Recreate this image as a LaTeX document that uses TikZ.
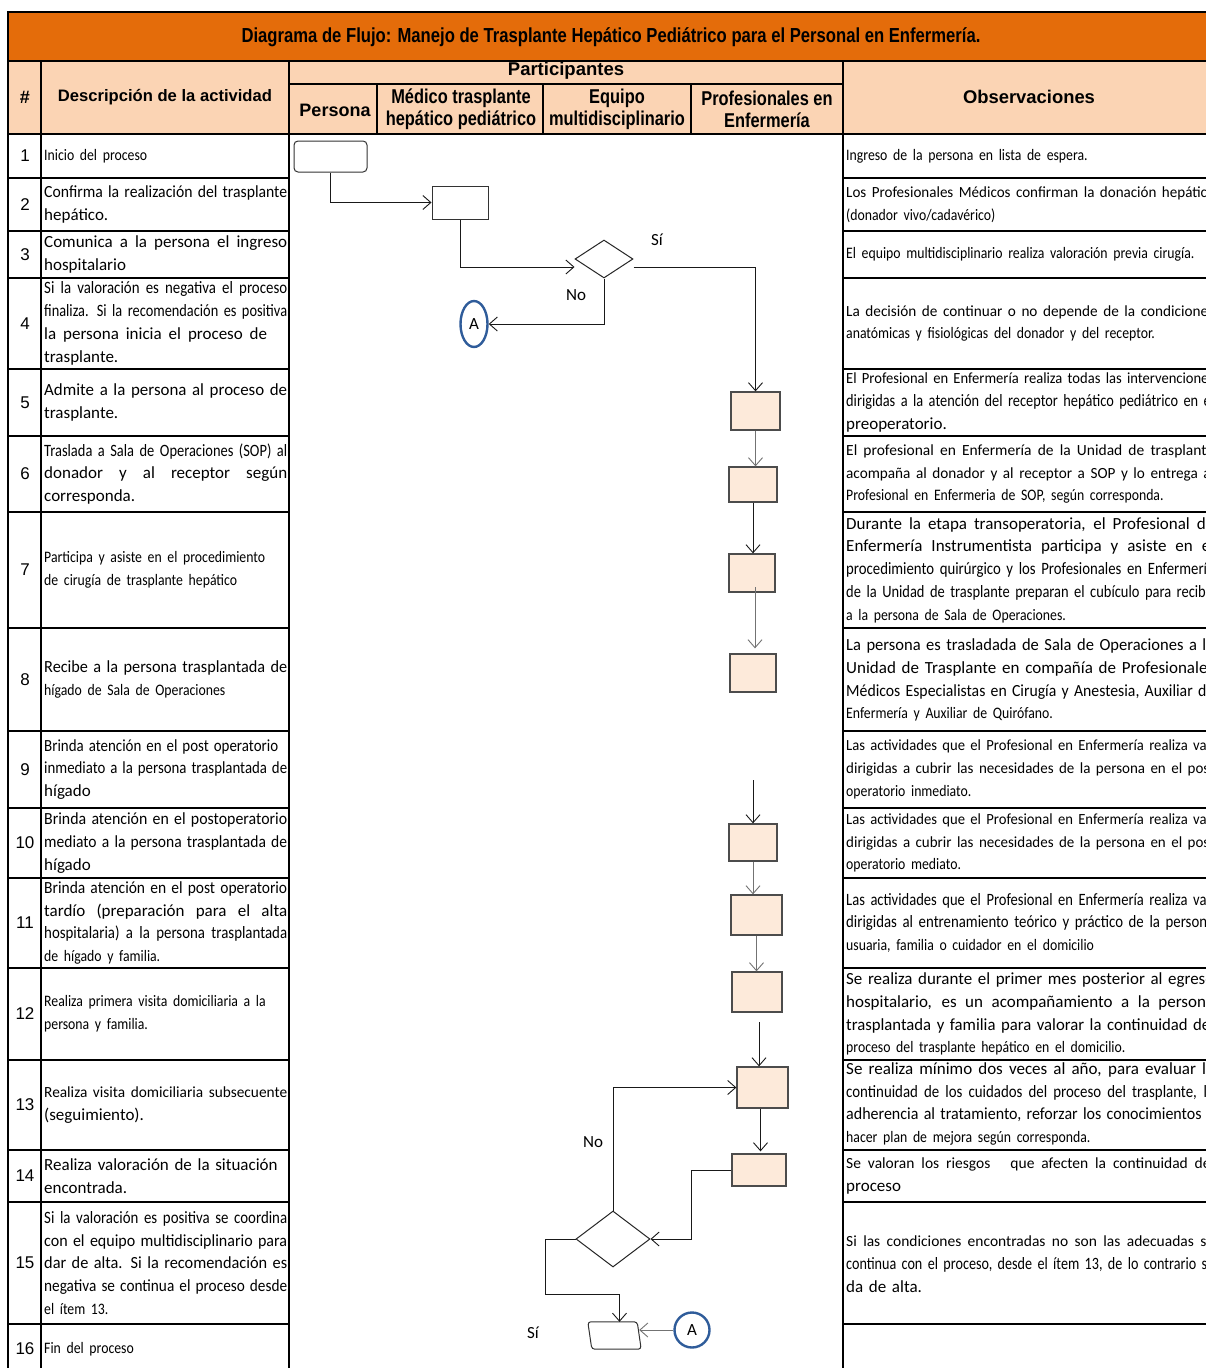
\documentclass[tikz,border=0pt]{standalone}
\usepackage{fontspec}
\usepackage{graphicx}
\setmainfont{Carlito}
\newfontfamily\condf{Carlito}[FakeStretch=0.86]
\newfontfamily\arialf{Liberation Sans}
\newfontfamily\narrowf{Liberation Sans}[FakeStretch=0.82]
\usetikzlibrary{arrows.meta,shapes.geometric,calc}
\definecolor{titleor}{HTML}{E46C0A}
\definecolor{headpeach}{HTML}{FBD4B4}
\definecolor{boxfill}{HTML}{FDEADA}
\definecolor{conblue}{HTML}{2F5C9A}
\newcommand{\fLg}{\rmfamily\fontsize{17}{22.8}\selectfont}
\newcommand{\fMd}{\rmfamily\fontsize{15.5}{22.8}\selectfont}
\newcommand{\fSm}{\condf\fontsize{16}{22.8}\selectfont}
\newcommand{\fSj}{\condf\fontsize{17.3}{22.8}\selectfont}
\newlength{\fitlen}
\newcommand{\fitline}[2]{\settowidth{\fitlen}{#2}\ifdim\fitlen>#1\relax\resizebox{#1}{\height}{#2}\else\makebox[#1][s]{\spaceskip=0.23em plus 1fil\xspaceskip=0.23em plus 1fil\relax #2}\fi}
\newcommand{\lineD}[1]{\fitline{243pt}{#1}}
\newcommand{\lineO}[1]{\fitline{368pt}{#1}}
\begin{document}
\begin{tikzpicture}[x=1pt,y=-1pt,
  tl/.style={line width=2.4pt, line cap=rect},
  dtext/.style={anchor=west, inner sep=0pt, text width=243pt, align=left, font=\fLg},
  otext/.style={anchor=west, inner sep=0pt, text width=368pt, align=left, font=\fLg},
  numtext/.style={inner sep=0pt, font=\arialf\fontsize{17}{20}\selectfont},
  hbold/.style={inner sep=0pt, align=center, font=\arialf\bfseries\fontsize{18}{22}\selectfont},
  hnarrow/.style={inner sep=0pt, align=center, font=\narrowf\bfseries\fontsize{20}{22}\selectfont},
  fbox/.style={draw=black!70, fill=boxfill, line width=1.3pt, inner sep=0pt},
  wbox/.style={draw=black!80, fill=white, line width=1pt, inner sep=0pt},
  ar/.style={draw=black!90, line width=0.9pt, -{Straight Barb[length=8pt,width=14pt]}},
  arg/.style={draw=black!55, line width=0.9pt, -{Straight Barb[length=8pt,width=14pt]}},
  lbl/.style={inner sep=0pt, font=\fontsize{17}{20}\selectfont},
  conn/.style={draw=conblue, line width=2.4pt, inner sep=0pt, font=\fontsize{17}{18}\selectfont}
]
\useasboundingbox (0,0) rectangle (1206,1368);
\clip (0,0) rectangle (1206,1368);
\fill[white] (0,0) rectangle (1206,1368);
% fills
\fill[titleor] (8,12) rectangle (1220,61);
\fill[headpeach] (8,61) rectangle (1220,134);

% title and headers
\node[inner sep=0pt, font=\narrowf\bfseries\fontsize{20.3}{22}\selectfont] (title) at (611,37)
  {Diagrama de Flujo: Manejo de Trasplante Hepático Pediátrico para el Personal en Enfermería.};
\node[hbold] (hnum) at (25,97) {\#};
\node[hbold, font=\arialf\bfseries\fontsize{16.6}{20}\selectfont] (hdesc) at (165,97) {Descripción de la actividad};
\node[hbold, font=\arialf\bfseries\fontsize{18.5}{22}\selectfont] (hpart) at (566,71) {Participantes};
\node[hbold] (hpers) at (335,110) {Persona};
\node[hnarrow] (hmed) at (461,109) {Médico trasplante\\hepático pediátrico};
\node[hnarrow] (hequ) at (617,109) {Equipo\\multidisciplinario};
\node[hnarrow] (hprof) at (767,109) {Profesionales en\\Enfermería};
\node[hbold, font=\arialf\bfseries\fontsize{18.4}{22}\selectfont] (hobs) at (1029,97) {Observaciones};

% numbers
\foreach \n/\y in {1/156,2/204.5,3/254.5,4/323.5,5/402.5,6/474,7/570,8/679.5,9/769.5,10/843,11/923,12/1014,13/1105,14/1176,15/1263,16/1349}
  \node[numtext] (num\n) at (25,\y) {\n};

% description column
\node[dtext] (d1) at (44,156) {{\fSm Inicio del proceso}};
\node[dtext] (d2) at (44,204.5) {\lineD{Confirma la realización del trasplante}\\hepático.};
\node[dtext] (d3) at (44,254.5) {\lineD{Comunica a la persona el ingreso}\\hospitalario};
\node[dtext] (d4) at (44,323.5) {\lineD{\fSj Si la valoración es negativa el proceso}\\\lineD{\fSj finaliza. Si la recomendación es positiva}\\\fitline{223pt}{la persona inicia el proceso de}\\trasplante.};
\node[dtext] (d5) at (44,402.5) {\lineD{Admite a la persona al proceso de}\\trasplante.};
\node[dtext] (d6) at (44,474) {\lineD{\fSj Traslada a Sala de Operaciones (SOP) al}\\\lineD{donador y al receptor según}\\corresponda.};
\node[dtext] (d7) at (44,570) {{\fSm Participa y asiste en el procedimiento}\\{\fSm de cirugía de trasplante hepático}};
\node[dtext] (d8) at (44,679.5) {\lineD{Recibe a la persona trasplantada de}\\{\fSm hígado de Sala de Operaciones}};
\node[dtext] (d9) at (44,769.5) {\fitline{234pt}{Brinda atención en el post operatorio}\\\lineD{inmediato a la persona trasplantada de}\\hígado};
\node[dtext] (d10) at (44,843) {\lineD{Brinda atención en el postoperatorio}\\\lineD{mediato a la persona trasplantada de}\\hígado};
\node[dtext] (d11) at (44,923) {\lineD{Brinda atención en el post operatorio}\\\lineD{tardío (preparación para el alta}\\\lineD{\fSj hospitalaria) a la persona trasplantada}\\{\fSm de hígado y familia.}};
\node[dtext] (d12) at (44,1014) {{\fSm Realiza primera visita domiciliaria a la}\\{\fSm persona y familia.}};
\node[dtext] (d13) at (44,1105) {\lineD{\fMd Realiza visita domiciliaria subsecuente}\\(seguimiento).};
\node[dtext] (d14) at (44,1176) {Realiza valoración de la situación\\encontrada.};
\node[dtext] (d15) at (44,1263) {\lineD{\fSj Si la valoración es positiva se coordina}\\\lineD{con el equipo multidisciplinario para}\\\lineD{dar de alta. Si la recomendación es}\\\lineD{negativa se continua el proceso desde}\\{\fSm el ítem 13.}};
\node[dtext] (d16) at (44,1349) {{\fSm Fin del proceso}};

% observations column
\node[otext] (o1) at (846,156) {{\fSm Ingreso de la persona en lista de espera.}};
\node[otext] (o2) at (846,204.5) {\lineO{\fMd Los Profesionales Médicos confirman la donación hepática}\\{\fSm (donador vivo/cadavérico)}};
\node[otext] (o3) at (846,254.5) {{\fSm El equipo multidisciplinario realiza valoración previa cirugía.}};
\node[otext] (o4) at (846,323.5) {\lineO{\fMd La decisión de continuar o no depende de la condiciones}\\{\fSm anatómicas y fisiológicas del donador y del receptor.}};
\node[otext] (o5) at (846,402.5) {\lineO{\fMd El Profesional en Enfermería realiza todas las intervenciones}\\\lineO{\fSj dirigidas a la atención del receptor hepático pediátrico en el}\\preoperatorio.};
\node[otext] (o6) at (846,474) {\lineO{\fMd El profesional en Enfermería de la Unidad de trasplante}\\\lineO{\fMd acompaña al donador y al receptor a SOP y lo entrega al}\\{\fSm Profesional en Enfermeria de SOP, según corresponda.}};
\node[otext] (o7) at (846,570) {\lineO{Durante la etapa transoperatoria, el Profesional de}\\\lineO{Enfermería Instrumentista participa y asiste en el}\\\lineO{\fSj procedimiento quirúrgico y los Profesionales en Enfermería}\\\lineO{\fSj de la Unidad de trasplante preparan el cubículo para recibir}\\{\fSm a la persona de Sala de Operaciones.}};
\node[otext] (o8) at (846,680) {\lineO{La persona es trasladada de Sala de Operaciones a la}\\\lineO{Unidad de Trasplante en compañía de Profesionales}\\\lineO{Médicos Especialistas en Cirugía y Anestesia, Auxiliar de}\\{\fSm Enfermería y Auxiliar de Quirófano.}};
\node[otext] (o9) at (846,769.5) {\lineO{\fMd Las actividades que el Profesional en Enfermería realiza van}\\\lineO{\fMd dirigidas a cubrir las necesidades de la persona en el post}\\{\fSm operatorio inmediato.}};
\node[otext] (o10) at (846,843) {\lineO{\fMd Las actividades que el Profesional en Enfermería realiza van}\\\lineO{\fMd dirigidas a cubrir las necesidades de la persona en el post}\\{\fSm operatorio mediato.}};
\node[otext] (o11) at (846,923) {\lineO{\fSj Las actividades que el Profesional en Enfermería realiza van}\\\lineO{\fSj dirigidas al entrenamiento teórico y práctico de la persona}\\{\fSm usuaria, familia o cuidador en el domicilio}};
\node[otext] (o12) at (846,1014) {\lineO{Se realiza durante el primer mes posterior al egreso}\\\lineO{hospitalario, es un acompañamiento a la persona}\\\lineO{trasplantada y familia para valorar la continuidad del}\\{\fSm proceso del trasplante hepático en el domicilio.}};
\node[otext] (o13) at (846,1104) {\lineO{Se realiza mínimo dos veces al año, para evaluar la}\\\lineO{\fSj continuidad de los cuidados del proceso del trasplante, la}\\\lineO{adherencia al tratamiento, reforzar los conocimientos y}\\{\fSm hacer plan de mejora según corresponda.}};
\node[otext] (o14) at (846,1176) {\lineO{\fMd Se valoran los riesgos\hspace{1.3em}que afecten la continuidad del}\\proceso};
\node[otext] (o15) at (846,1264) {\lineO{\fMd Si las condiciones encontradas no son las adecuadas se}\\\lineO{\fSj continua con el proceso, desde el ítem 13, de lo contrario se}\\da de alta.};

% table lines
\draw[tl] (8,12) -- (1220,12);
\draw[tl] (8,61) -- (1220,61);
\draw[tl] (289,84) -- (843,84);
\draw[tl] (8,134) -- (1220,134);
\draw[tl] (8,12) -- (8,1372);
\foreach \x in {41,289,843} \draw[tl] (\x,61) -- (\x,1372);
\foreach \x in {377,543,691} \draw[tl] (\x,84) -- (\x,134);
\foreach \y in {178,231,278,369,436,512,628,731,808,878,968,1060,1150,1202,1324} {
  \draw[tl] (8,\y) -- (289,\y);
  \draw[tl] (843,\y) -- (1220,\y);
}

% flow nodes
\node[wbox, rounded corners=4pt, minimum width=73pt, minimum height=31pt] (s1) at (330.5,156.5) {};
\node[wbox, minimum width=56pt, minimum height=33pt] (b2) at (460,202.5) {};
\node[diamond, draw=black!85, fill=white, line width=1pt, inner sep=0pt, minimum width=58pt, minimum height=38pt] (q3) at (604,259) {};
\node[ellipse, conn, minimum width=27pt, minimum height=46pt] (a4) at (474,324) {A};
\node[fbox, minimum width=49pt, minimum height=38pt] (b5) at (755.5,411) {};
\node[fbox, minimum width=48pt, minimum height=35pt] (b6) at (753,484.5) {};
\node[fbox, minimum width=46pt, minimum height=38pt] (b7) at (752,573) {};
\node[fbox, minimum width=46pt, minimum height=38pt] (b8) at (753,673) {};
\node[fbox, minimum width=48pt, minimum height=37pt] (b10) at (753,842.5) {};
\node[fbox, minimum width=51pt, minimum height=40pt] (b11) at (756.5,915) {};
\node[fbox, minimum width=50pt, minimum height=40pt] (b12) at (757,992) {};
\node[fbox, minimum width=51pt, minimum height=41pt] (b13) at (762.5,1087.5) {};
\node[fbox, minimum width=54pt, minimum height=32pt] (b14) at (759,1170) {};
\node[diamond, draw=black!85, fill=white, line width=1pt, inner sep=0pt, minimum width=74pt, minimum height=56pt] (q15) at (613,1239) {};
\node[inner sep=0pt, minimum width=49pt, minimum height=27pt] (e16) at (614.5,1335.5) {};
\draw[draw=black!80, fill=white, line width=1pt, rounded corners=3pt]
  ($(e16.north west)+(-2,0)$) -- ($(e16.north east)+(-2,0)$) -- ($(e16.south east)+(2,0)$) -- ($(e16.south west)+(2,0)$) -- cycle;
\node[circle, conn, minimum size=35pt] (a16) at (692,1330) {A};
\coordinate (c9) at (753,780);
\coordinate (c12) at (759,1022);

% flow labels
\node[lbl] (lsi1) at (657,240) {Sí};
\node[lbl] (lno1) at (576,295) {No};
\node[lbl] (lno2) at (593,1142) {No};
\node[lbl] (lsi2) at (533,1333) {Sí};

% connectors
\draw[ar] (s1.south) |- (b2.west);
\draw[ar] (b2.south) |- ($(q3.west)+(0,8)$);
\draw[ar] ($(q3.east)+(0,8)$) -| (b5.north);
\draw[ar] (q3.south) |- (a4.east);
\draw[arg] (b5.south) -- (b5.south |- b6.north);
\draw[ar] (b6.south) -- (b6.south |- b7.north);
\draw[arg] ($(b7.center)+(3,14)$) -- ($(b7.center |- b8.north)+(3,-5)$);
\draw[ar] (c9) -- (c9 |- b10.north);
\draw[arg] (b10.south) -- (b10.south |- b11.north);
\draw[arg] (b11.south) -- (b11.south |- b12.north);
\draw[ar] (c12) -- (c12 |- b13.north);
\draw[ar] ($(b13.south)+(-2,0)$) -- ($(b13.south |- b14.north)+(-2,-2)$);
\draw[ar] (b14.west) -- ++(-40,0) |- (q15.east);
\draw[ar] (q15.north) |- (b13.west);
\draw[ar] (q15.west) -- ++(-30,0) -- ++(0,55) -| ($(e16.north)+(5,0)$);
\draw[arg] (a16.west) -- (a16.west -| e16.east);
\end{tikzpicture}
\end{document}
